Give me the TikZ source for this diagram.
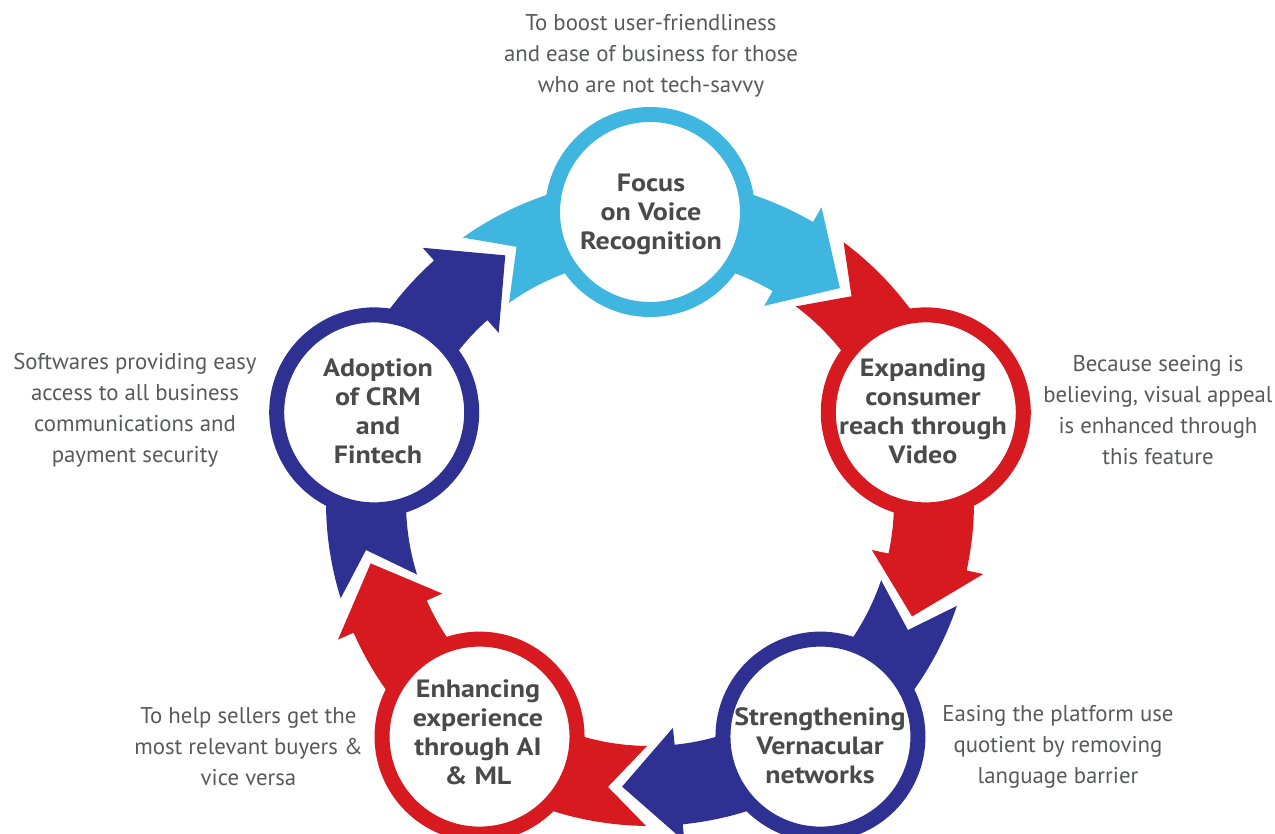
\documentclass[tikz,border=0pt]{standalone}
\usepackage{fontspec}
\setmainfont{PT Sans}
\newfontfamily\lblfont[FakeStretch=1.12]{PT Sans}
\definecolor{lblue}{HTML}{3FB6E0}
\definecolor{myred}{HTML}{D71920}
\definecolor{dblue}{HTML}{2E3192}
\definecolor{lbl}{HTML}{4A4A4A}
\definecolor{desc}{HTML}{58595B}
\begin{document}
\begin{tikzpicture}[x=1pt,y=1pt,
  ringnode/.style={circle, draw=#1, fill=white, line width=15pt, minimum size=195pt, inner sep=0pt},
  lbltext/.style={align=center, text=lbl, font=\lblfont\fontsize{25}{29}\selectfont\bfseries},
  desctext/.style={align=center, text=desc, font=\fontsize{22.8}{31}\selectfont}]
\useasboundingbox (-650,-332) rectangle (625,502);
% ring bands with arrow heads
\foreach \s/\c in {90/lblue, 18/myred, -54/dblue, -126/myred, 162/dblue} {
  \pgfmathsetmacro\aT{\s+35.3}
  \pgfmathsetmacro\aN{\s+27.6}
  \pgfmathsetmacro\aB{\s-30.2}
  \pgfmathsetmacro\aP{\s-41.6}
  \fill[\c] (\aN:288) -- (\aT:324) arc[start angle=\aT, end angle=\aB, radius=324]
    -- (\aB:341) -- (\aP:286) -- (\aB:227) -- (\aB:244)
    arc[start angle=\aB, end angle=\aT, radius=244] -- cycle;
}
% circles
\node[ringnode=lblue] (focus) at (90:290) {};
\node[ringnode=myred] (expand) at (18:290) {};
\node[ringnode=dblue] (streng) at (-54:290) {};
\node[ringnode=myred] (enhance) at (-126:290) {};
\node[ringnode=dblue] (adopt) at (162:290) {};
% circle labels
\node[lbltext] (tfocus) at (1,288) {Focus\\on Voice\\Recognition};
\node[lbltext] (texpand) at (273,91) {Expanding\\consumer\\reach through\\Video};
\node[lbltext] (tstreng) at (170,-244) {Strengthening\\Vernacular\\networks};
\node[lbltext] (tenhance) at (-172,-230) {Enhancing\\experience\\through AI\\\& ML};
\node[lbltext] (tadopt) at (-272,91) {Adoption\\of CRM\\and\\Fintech};
% descriptions
\node[desctext] (dfocus) at (1,446) {To boost user-friendliness\\and ease of business for those\\who are not tech-savvy};
\node[desctext] (dexpand) at (508,92) {Because seeing is\\believing, visual appeal\\is enhanced through\\this feature};
\node[desctext] (dstreng) at (408,-245) {Easing the platform use\\quotient by removing\\language barrier};
\node[desctext] (denhance) at (-401.5,-245) {To help sellers get the\\most relevant buyers \&\\vice versa};
\node[desctext] (dadopt) at (-515,92) {Softwares providing easy\\access to all business\\communications and\\payment security};
\end{tikzpicture}
\end{document}
